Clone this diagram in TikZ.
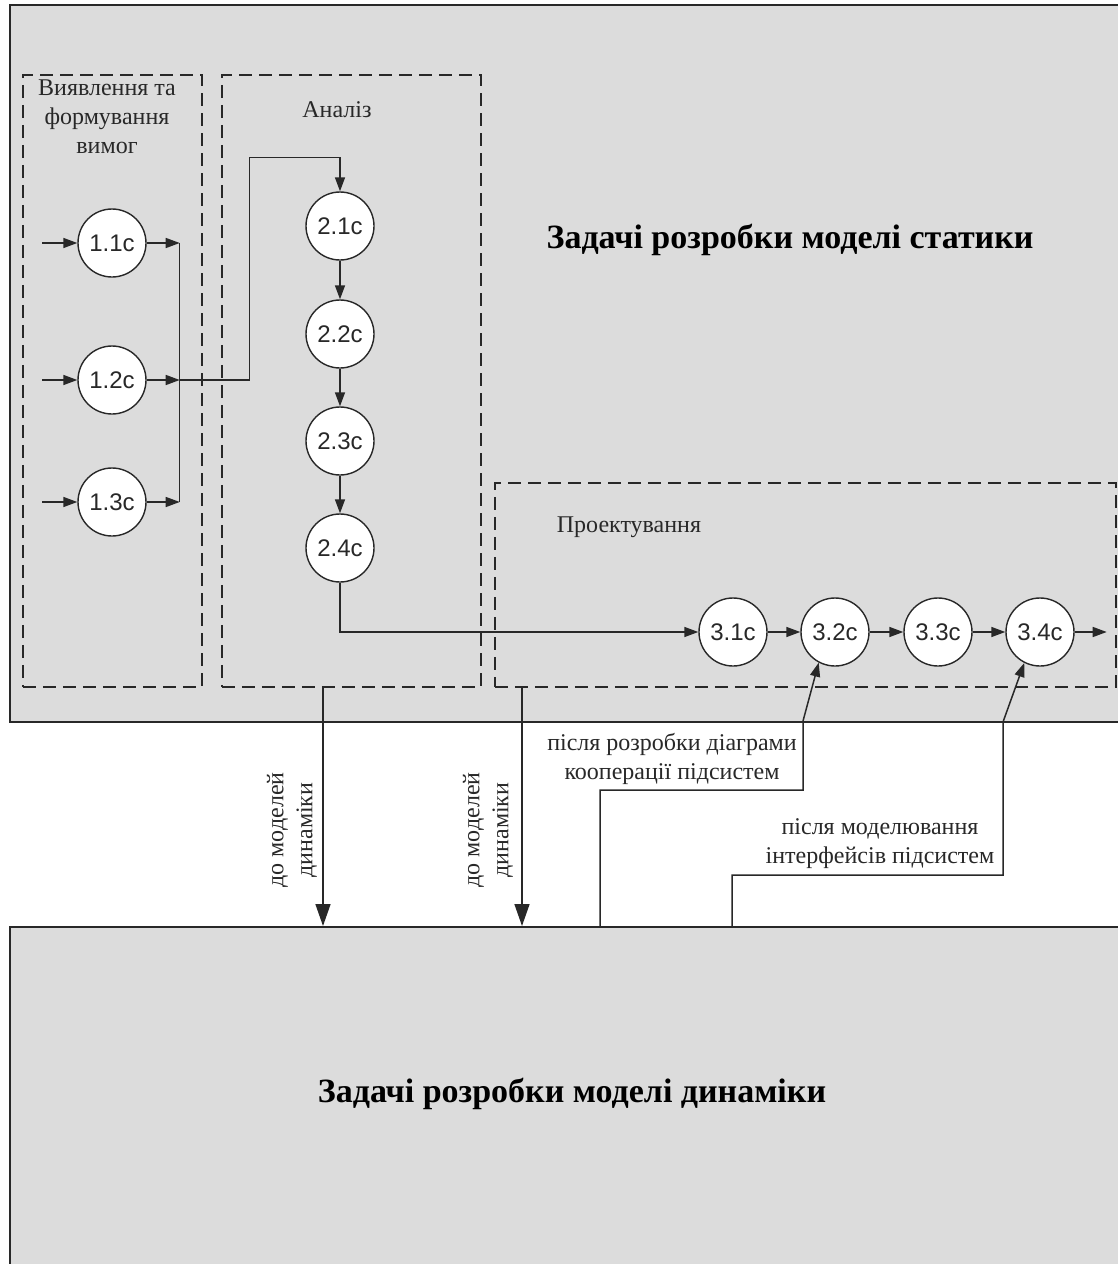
\documentclass[tikz,border=0pt]{standalone}
\usepackage{fontspec}
\setmainfont{Liberation Serif}
\setsansfont{Liberation Sans}
\usetikzlibrary{arrows.meta}
\definecolor{panelgray}{RGB}{220,220,220}
\definecolor{inkgray}{RGB}{40,40,40}
\tikzset{
  panel/.style={draw=inkgray, line width=2pt, fill=panelgray, anchor=north west, inner sep=0pt},
  phase/.style={draw=inkgray, line width=1.8pt, dash pattern=on 13pt off 7pt, anchor=north west, inner sep=0pt},
  task/.style={circle, draw=inkgray, line width=1.4pt, fill=white, minimum size=68pt, inner sep=0pt,
    font=\fontsize{24}{28}\sffamily\selectfont, text=inkgray},
  flow/.style={draw=inkgray, line width=1.5pt, -{Triangle[length=14pt,width=10pt]}},
  drop/.style={draw=inkgray, line width=1.5pt, -{Triangle[length=22pt,width=15pt]}},
  lbl/.style={font=\fontsize{24}{29}\selectfont, text=inkgray, align=center},
  title/.style={font=\fontsize{34}{40}\selectfont\bfseries, text=black}
}
\begin{document}
\begin{tikzpicture}[x=1pt,y=-1pt]
\clip (0,0) rectangle (1118,1264);
\fill[white] (0,0) rectangle (1118,1264);
% panels
\node[panel, minimum width=1130pt, minimum height=717pt] (stat) at (9,4) {};
\node[panel, minimum width=1130pt, minimum height=360pt] (dyn) at (9,926) {};
\node[title] (stattitle) at (790,240) {Задачі розробки моделі статики};
\node[title] (dyntitle) at (572,1094) {Задачі розробки моделі динаміки};
% phases
\node[phase, minimum width=179pt, minimum height=612pt] (ph1) at (22,74) {};
\node[phase, minimum width=259pt, minimum height=612pt] (ph2) at (221,74) {};
\node[phase, minimum width=621pt, minimum height=204pt] (ph3) at (494,482) {};
\node[lbl] (ph1lbl) at (107,117) {Виявлення та\\формування\\вимог};
\node[lbl] (ph2lbl) at (337,110) {Аналіз};
\node[lbl] (ph3lbl) at (629,527) {Проектування};
% tasks
\foreach \i/\y in {1/243,2/380,3/502}
  \node[task] (c1\i) at (112,\y) {1.\i c};
\foreach \i/\y in {1/226,2/334,3/441,4/548}
  \node[task] (c2\i) at (340,\y) {2.\i c};
\foreach \i/\x in {1/733,2/835,3/938,4/1040}
  \node[task] (c3\i) at (\x,632) {3.\i c};
% flows
\foreach \i in {1,2,3} {
  \draw[flow] ([xshift=-35pt]c1\i.west) -- (c1\i.west);
  \draw[flow] (c1\i.east) -- ++(33,0) coordinate (j\i);
}
\draw[inkgray, line width=1.5pt] (j1) -- (j3);
\draw[flow] (j2) -- ++(70,0) |- ([yshift=34pt]c21.north) -- (c21.north);
\foreach \a/\b in {21/22,22/23,23/24,31/32,32/33,33/34}
  \draw[flow] (c\a) -- (c\b);
\draw[flow] (c24.south) |- (c31);
\draw[flow] (c34.east) -- ++(32,0);
% to dynamics
\coordinate (d1) at ([xshift=102pt]ph2.south west);
\coordinate (d2) at ([xshift=28pt]ph3.south west);
\draw[drop] (d1) -- (d1 |- dyn.north);
\draw[drop] (d2) -- (d2 |- dyn.north);
\node[lbl, rotate=90] (dl1) at (292,830) {до моделей\\динаміки};
\node[lbl, rotate=90] (dl2) at (488,830) {до моделей\\динаміки};
% from dynamics
\draw[flow] ([xshift=591pt]dyn.north west) -- ++(0,-136) -| ++(203,-69) -- (c32.242);
\draw[flow] ([xshift=723pt]dyn.north west) -- ++(0,-51) -| ++(271,-153) -- (c34.243);
\node[lbl] (up1) at (672,759) {після розробки діаграми\\кооперації підсистем};
\node[lbl] (up2) at (880,844) {після моделювання\\інтерфейсів підсистем};
\end{tikzpicture}
\end{document}
